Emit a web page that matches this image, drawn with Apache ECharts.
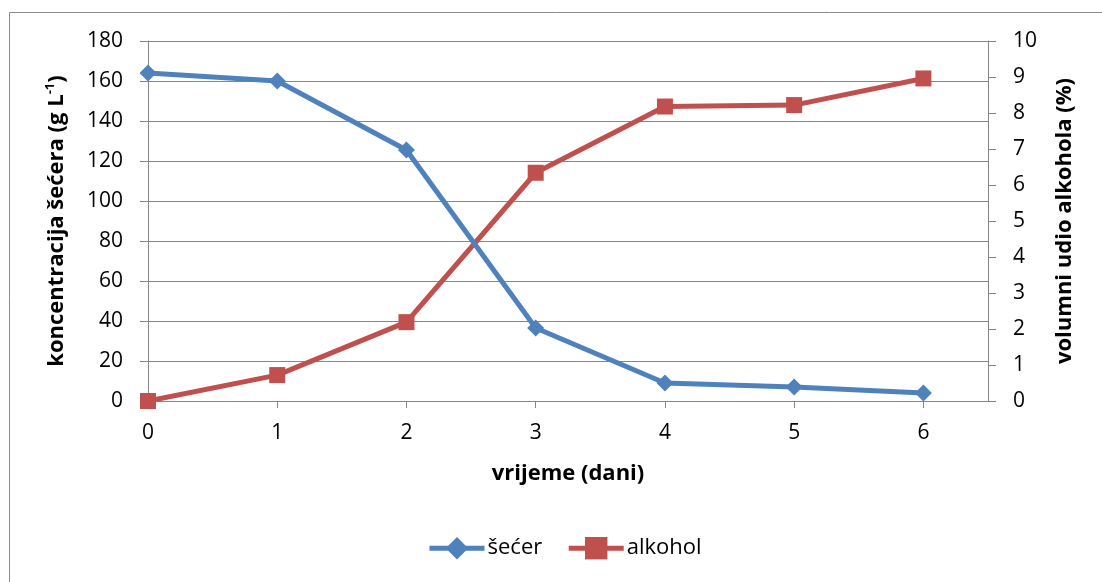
<!DOCTYPE html>
<html>
<head>
<meta charset="utf-8">
<script src="https://cdn.jsdelivr.net/npm/echarts@6/dist/echarts.min.js"></script>
<style>
html,body{margin:0;padding:0;background:#fff;}
#chart{width:1102px;height:582px;}
</style>
</head>
<body>
<div id="chart"></div>
<script>
const days = [0, 1, 2, 3, 4, 5, 6];
const secer = [164, 160, 125.5, 36.5, 9, 7, 4];
const alkohol = [0, 0.72, 2.19, 6.34, 8.18, 8.22, 8.96];
const leftTicks = [0, 20, 40, 60, 80, 100, 120, 140, 160, 180];
const rightTicks = [0, 1, 2, 3, 4, 5, 6, 7, 8, 9, 10];

const FONT = 'Open Sans';
const GRAY = '#868686';
const BLUE = '#4F81BD';
const RED = '#C0504D';

const chart = echarts.init(document.getElementById('chart'));
chart.setOption({
  animation: false,
  backgroundColor: '#fff',
  textStyle: { fontFamily: FONT },
  graphic: [{
    type: 'rect',
    shape: { x: 9.5, y: 12.5, width: 1200, height: 700 },
    style: { fill: 'none', stroke: '#8a8a8a', lineWidth: 1 },
    silent: true, z: -1
  }],
  grid: { left: 148, top: 41, width: 840, height: 360, containLabel: false },
  legend: {
    left: 427, top: 537, padding: 0,
    itemWidth: 55, itemHeight: 28, itemGap: 24,
    lineStyle: { width: 5 },
    textStyle: { fontFamily: FONT, fontSize: 22, color: '#000', padding: [0, 0, 0, -2] },
    data: ['šećer', 'alkohol']
  },
  xAxis: {
    type: 'value', min: 0, max: 6.5, interval: 1,
    name: 'vrijeme (dani)', nameLocation: 'middle', nameGap: 62,
    nameTextStyle: { fontFamily: FONT, fontSize: 22, fontWeight: 'bold', color: '#000' },
    axisLine: { show: true, lineStyle: { color: GRAY, width: 1 } },
    axisTick: { show: true, inside: false, length: 7, lineStyle: { color: GRAY }, customValues: [1, 2, 3, 4, 5, 6] },
    axisLabel: { fontFamily: FONT, fontSize: 21, color: '#000', margin: 22, customValues: days },
    splitLine: { show: false }
  },
  yAxis: [{
    type: 'value', min: 0, max: 180, interval: 20, position: 'left',
    name: 'koncentracija šećera (g L{s|-1})', nameLocation: 'middle', nameGap: 78, nameRotate: 90,
    nameTextStyle: {
      fontFamily: FONT, fontSize: 22, fontWeight: 'bold', color: '#000', lineHeight: 26,
      rich: { s: { fontFamily: FONT, fontSize: 13, fontWeight: 'bold', color: '#000', verticalAlign: 'top', lineHeight: 26 } }
    },
    axisLine: { show: true, lineStyle: { color: GRAY, width: 1 } },
    axisTick: { show: true, inside: false, length: 8, lineStyle: { color: GRAY } },
    axisLabel: { fontFamily: FONT, fontSize: 21, color: '#000', margin: 25, customValues: leftTicks },
    splitLine: { show: true, lineStyle: { color: GRAY, width: 1 } }
  }, {
    type: 'value', min: 0, max: 10, interval: 1, position: 'right',
    name: 'volumni udio alkohola (%)', nameLocation: 'middle', nameGap: 66, nameRotate: 90,
    nameTextStyle: { fontFamily: FONT, fontSize: 22, fontWeight: 'bold', color: '#000' },
    axisLine: { show: true, lineStyle: { color: GRAY, width: 1 } },
    axisTick: { show: true, inside: false, length: 8, lineStyle: { color: GRAY } },
    axisLabel: { fontFamily: FONT, fontSize: 21, color: '#000', margin: 25, customValues: rightTicks },
    splitLine: { show: false }
  }],
  series: [{
    name: 'šećer', type: 'line', yAxisIndex: 0,
    data: days.map((d, i) => [d, secer[i]]),
    symbol: 'diamond', symbolSize: 17,
    lineStyle: { color: BLUE, width: 5 },
    itemStyle: { color: BLUE },
    z: 3
  }, {
    name: 'alkohol', type: 'line', yAxisIndex: 1,
    data: days.map((d, i) => [d, alkohol[i]]),
    symbol: 'rect', symbolSize: 16,
    lineStyle: { color: RED, width: 5 },
    itemStyle: { color: RED },
    z: 2
  }]
});
</script>
</body>
</html>
